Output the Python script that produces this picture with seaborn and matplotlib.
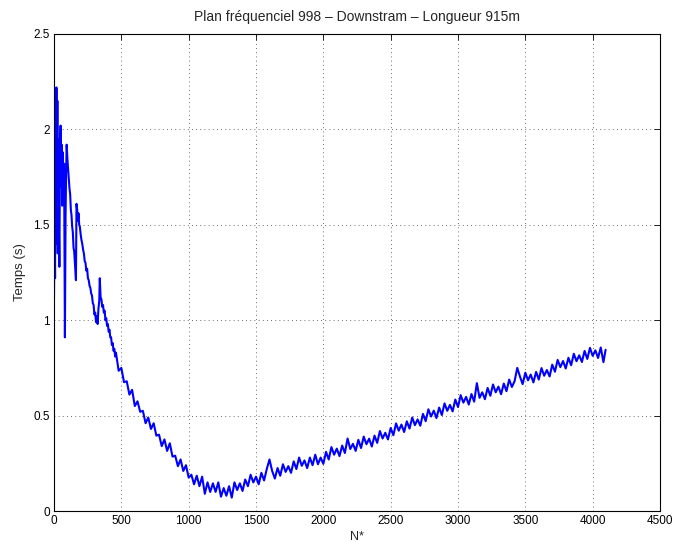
import numpy as np
import pandas as pd
import matplotlib
matplotlib.use("Agg")
import matplotlib.pyplot as plt
import seaborn as sns

# early part of the curve (spiky start), N* and time in s
n_early = [0, 4, 8, 12, 15, 18, 22, 25, 28, 32, 36, 40, 44, 49, 53, 57, 62, 66, 70, 75,
           81, 86, 90, 94, 100, 105, 110, 115, 120, 125, 130, 135, 140, 145, 150, 155, 160, 163, 167, 172,
           177, 182, 187, 192, 198, 204, 210, 216, 222, 228, 234, 240, 246, 252, 258, 264, 270, 276, 282, 288,
           294, 300, 306, 312, 318, 324, 330, 336, 340, 346, 352, 358, 364, 370, 376, 382, 388, 394, 400, 406,
           412, 418, 424, 430, 436, 442, 448, 454]
t_early = [1.12, 1.55, 1.22, 2.10, 1.40, 2.22, 1.60, 2.15, 1.35, 1.95, 1.50, 1.28, 1.85, 2.02, 1.70, 1.92, 1.60, 1.88, 1.65, 1.82,
           0.91, 1.55, 1.78, 1.92, 1.84, 1.79, 1.74, 1.69, 1.66, 1.58, 1.55, 1.49, 1.46, 1.38, 1.36, 1.30, 1.24, 1.21, 1.61, 1.58,
           1.52, 1.56, 1.50, 1.49, 1.45, 1.42, 1.40, 1.37, 1.35, 1.31, 1.30, 1.26, 1.27, 1.22, 1.21, 1.18, 1.17, 1.14, 1.13, 1.09,
           1.08, 1.03, 1.04, 0.99, 1.02, 0.98, 1.06, 1.10, 1.22, 1.12, 1.11, 1.07, 1.08, 1.04, 1.05, 1.00, 1.01, 0.97, 0.98, 0.94,
           0.95, 0.91, 0.91, 0.87, 0.88, 0.84, 0.85, 0.81]

# rest of the curve, sampled every 20 points
n_late = list(np.arange(460, 4100, 20)) + [4096]
t_late = [0.83, 0.735, 0.75, 0.675, 0.68, 0.61, 0.635, 0.55, 0.575, 0.52,
          0.525, 0.46, 0.49, 0.43, 0.46, 0.395, 0.40, 0.34, 0.375, 0.315,
          0.355, 0.285, 0.29, 0.235, 0.27, 0.21, 0.24, 0.175, 0.19, 0.14,
          0.185, 0.13, 0.18, 0.09, 0.15, 0.10, 0.145, 0.10, 0.15, 0.075,
          0.12, 0.08, 0.13, 0.07, 0.15, 0.11, 0.145, 0.105, 0.165, 0.13,
          0.19, 0.15, 0.18, 0.14, 0.20, 0.16, 0.22, 0.27, 0.21, 0.17,
          0.225, 0.185, 0.245, 0.205, 0.235, 0.20, 0.26, 0.22, 0.28, 0.237,
          0.265, 0.225, 0.28, 0.24, 0.295, 0.245, 0.28, 0.247, 0.31, 0.27,
          0.335, 0.295, 0.327, 0.288, 0.343, 0.304, 0.38, 0.325, 0.352, 0.315,
          0.373, 0.33, 0.39, 0.35, 0.379, 0.338, 0.395, 0.357, 0.419, 0.38,
          0.41, 0.375, 0.435, 0.397, 0.459, 0.421, 0.453, 0.414, 0.47, 0.432,
          0.49, 0.45, 0.48, 0.447, 0.509, 0.471, 0.533, 0.495, 0.526, 0.487,
          0.542, 0.503, 0.564, 0.525, 0.556, 0.522, 0.584, 0.545, 0.607, 0.568,
          0.598, 0.558, 0.613, 0.573, 0.67, 0.593, 0.622, 0.586, 0.645, 0.604,
          0.663, 0.622, 0.652, 0.612, 0.668, 0.628, 0.689, 0.65, 0.68, 0.75,
          0.705, 0.665, 0.725, 0.685, 0.715, 0.674, 0.729, 0.689, 0.749, 0.709,
          0.739, 0.705, 0.767, 0.73, 0.792, 0.754, 0.786, 0.747, 0.803, 0.764,
          0.824, 0.785, 0.816, 0.781, 0.839, 0.797, 0.855, 0.813, 0.842, 0.802,
          0.857, 0.78, 0.845]

x_ticks = [0, 500, 1000, 1500, 2000, 2500, 3000, 3500, 4000, 4500]
y_ticks = [0, 0.5, 1, 1.5, 2, 2.5]
y_tick_labels = ['0', '0.5', '1', '1.5', '2', '2.5']

df = pd.DataFrame({'N': n_early + n_late, 'Temps': t_early + t_late})

sns.set_style('white')
plt.rcParams['font.family'] = ['Liberation Sans', 'DejaVu Sans']

fig = plt.figure(figsize=(6.74, 5.42), dpi=100)
ax = fig.add_axes([54/674, 1 - 511/542, 606/674, 477/542])
sns.lineplot(data=df, x='N', y='Temps', ax=ax, color='#0000ff', linewidth=1.5,
             estimator=None, sort=False)

ax.set_xlim(0, 4500)
ax.set_ylim(0, 2.5)
ax.set_xticks(x_ticks)
ax.set_xticklabels([str(t) for t in x_ticks])
ax.set_yticks(y_ticks)
ax.set_yticklabels(y_tick_labels)
ax.grid(True, color='0.25', linestyle=(0, (1, 4)), linewidth=0.6)
ax.tick_params(direction='in', length=4, width=0.6, labelsize=8.5, colors='black',
               top=True, right=True, pad=3)
for s in ax.spines.values():
    s.set_color('black')
    s.set_linewidth(0.8)

ax.set_title('Plan fréquenciel 998 \u2013 Downstram \u2013 Longueur 915m', fontsize=10, pad=9)
ax.set_xlabel('N*', fontsize=9, labelpad=3)
ax.set_ylabel('Temps (s)', fontsize=9.5, labelpad=5)

fig.savefig('out.png', dpi=100)
